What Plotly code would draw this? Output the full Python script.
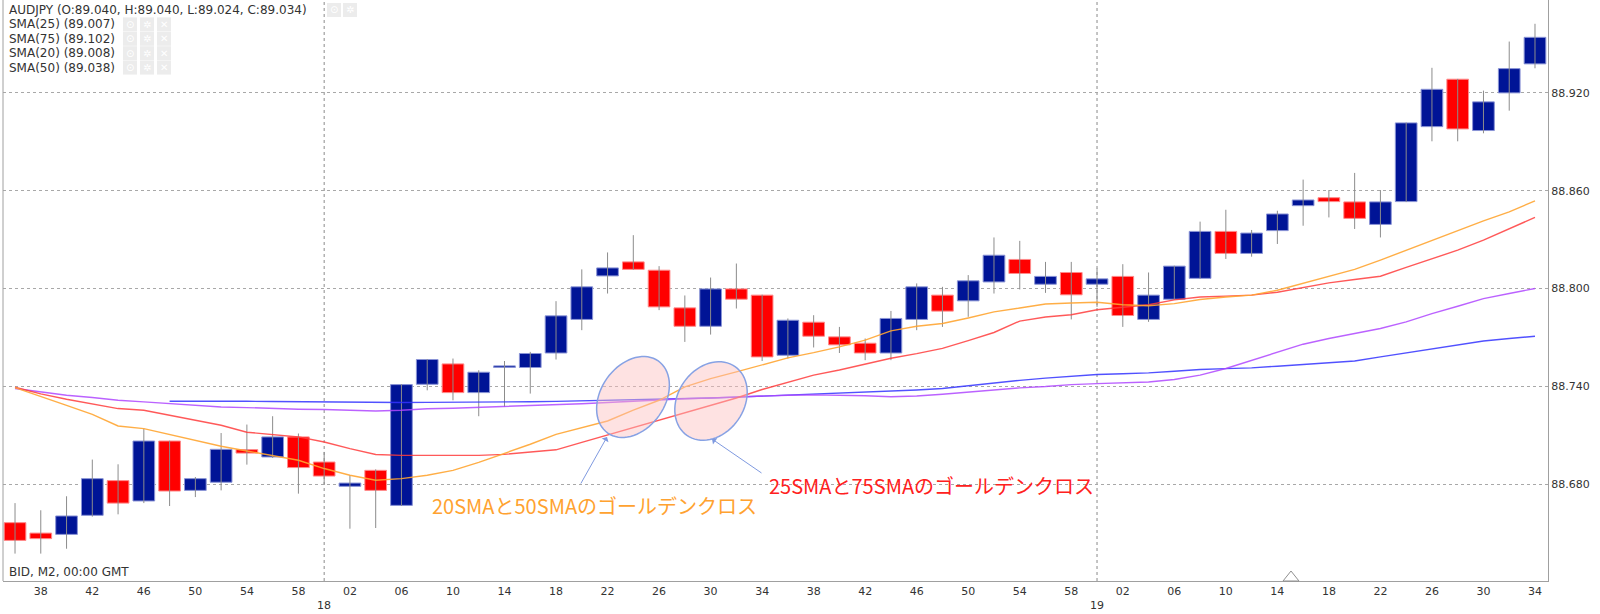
import math
import numpy as np
import pandas as pd
import plotly.graph_objects as go

# ---------------- data ----------------
times = pd.date_range("2019-05-17 17:36", periods=60, freq="2min")

open_ = [88.6563, 88.6499, 88.6491, 88.6608, 88.6821, 88.6696, 88.7064, 88.6761, 88.6811, 88.7011,
         88.6966, 88.7089, 88.6935, 88.6786, 88.6884, 88.6669, 88.7412, 88.7537, 88.7361, 88.7515,
         88.7515, 88.7604, 88.7810, 88.8077, 88.8163, 88.8112, 88.7881, 88.7768, 88.7997, 88.7959,
         88.7590, 88.7793, 88.7703, 88.7664, 88.7604, 88.7810, 88.7959, 88.7924, 88.8040, 88.8178,
         88.8026, 88.8098, 88.8026, 88.8074, 88.7810, 88.7934, 88.8062, 88.8350, 88.8215, 88.8355,
         88.8508, 88.8557, 88.8531, 88.8393, 88.8533, 88.8993, 88.9284, 88.8969, 88.9200, 88.9378]
high = [88.6683, 88.6639, 88.6725, 88.6950, 88.6921, 88.7140, 88.7066, 88.6843, 88.7113, 88.7165,
        88.7216, 88.7110, 88.6997, 88.6854, 88.6890, 88.7412, 88.7566, 88.7570, 88.7498, 88.7555,
        88.7611, 88.7922, 88.8117, 88.8221, 88.8327, 88.8137, 88.7957, 88.8067, 88.8153, 88.7962,
        88.7816, 88.7836, 88.7764, 88.7693, 88.7862, 88.8031, 88.8010, 88.8082, 88.8313, 88.8292,
        88.8163, 88.8163, 88.8123, 88.8149, 88.8098, 88.8140, 88.8410, 88.8483, 88.8359, 88.8477,
        88.8668, 88.8604, 88.8709, 88.8604, 88.9018, 88.9354, 88.9286, 88.9214, 88.9515, 88.9624]
low = [88.6373, 88.6373, 88.6403, 88.6600, 88.6614, 88.6683, 88.6665, 88.6720, 88.6761, 88.6919,
       88.6960, 88.6741, 88.6798, 88.6526, 88.6530, 88.6665, 88.7375, 88.7314, 88.7216, 88.7273,
       88.7355, 88.7564, 88.7744, 88.7969, 88.8115, 88.7867, 88.7672, 88.7717, 88.7877, 88.7555,
       88.7570, 88.7638, 88.7604, 88.7560, 88.7560, 88.7744, 88.7764, 88.7826, 88.7969, 88.7994,
       88.7973, 88.7810, 88.7887, 88.7764, 88.7795, 88.7930, 88.8060, 88.8181, 88.8195, 88.8273,
       88.8385, 88.8436, 88.8365, 88.8313, 88.8530, 88.8903, 88.8903, 88.8952, 88.9091, 88.9351]
close = [88.6454, 88.6465, 88.6604, 88.6833, 88.6683, 88.7064, 88.6757, 88.6833, 88.7013, 88.6990,
         88.7089, 88.6901, 88.6849, 88.6806, 88.6761, 88.7410, 88.7564, 88.7361, 88.7486, 88.7525,
         88.7601, 88.7832, 88.8010, 88.8126, 88.8117, 88.7887, 88.7768, 88.7997, 88.7934, 88.7580,
         88.7805, 88.7707, 88.7654, 88.7604, 88.7816, 88.8010, 88.7861, 88.8047, 88.8204, 88.8092,
         88.8074, 88.7961, 88.8059, 88.7834, 88.7959, 88.8137, 88.8350, 88.8215, 88.8340, 88.8457,
         88.8543, 88.8533, 88.8430, 88.8531, 88.9016, 88.9222, 88.8979, 88.9145, 88.9349, 88.9541]

sma20 = [88.7392, 88.7339, 88.7283, 88.7228, 88.7156, 88.7140, 88.7105, 88.7068, 88.7032, 88.7003,
         88.6976, 88.6946, 88.6895, 88.6854, 88.6823, 88.6833, 88.6854, 88.6884, 88.6933, 88.6989,
         88.7044, 88.7105, 88.7146, 88.7187, 88.7253, 88.7314, 88.7396, 88.7447, 88.7488, 88.7529,
         88.7574, 88.7606, 88.7642, 88.7683, 88.7740, 88.7768, 88.7785, 88.7819, 88.7856, 88.7880,
         88.7905, 88.7911, 88.7915, 88.7900, 88.7894, 88.7907, 88.7932, 88.7948, 88.7959, 88.7989,
         88.8031, 88.8071, 88.8117, 88.8174, 88.8235, 88.8296, 88.8358, 88.8415, 88.8470, 88.8538]
sma25 = [88.7394, 88.7353, 88.7320, 88.7291, 88.7263, 88.7253, 88.7222, 88.7191, 88.7161, 88.7118,
         88.7105, 88.7089, 88.7058, 88.7017, 88.6981, 88.6976, 88.6976, 88.6976, 88.6976, 88.6982,
         88.6995, 88.7010, 88.7056, 88.7101, 88.7144, 88.7191, 88.7234, 88.7279, 88.7328, 88.7380,
         88.7425, 88.7468, 88.7500, 88.7535, 88.7572, 88.7600, 88.7632, 88.7680, 88.7730, 88.7800,
         88.7825, 88.7839, 88.7869, 88.7885, 88.7900, 88.7930, 88.7948, 88.7953, 88.7959, 88.7977,
         88.8006, 88.8034, 88.8055, 88.8075, 88.8129, 88.8184, 88.8235, 88.8296, 88.8368, 88.8436]
sma50 = [88.7386, 88.7365, 88.7345, 88.7331, 88.7314, 88.7304, 88.7294, 88.7283, 88.7273, 88.7269,
         88.7263, 88.7259, 88.7257, 88.7253, 88.7248, 88.7253, 88.7262, 88.7265, 88.7270, 88.7276,
         88.7283, 88.7289, 88.7293, 88.7300, 88.7309, 88.7317, 88.7323, 88.7328, 88.7335, 88.7340,
         88.7345, 88.7347, 88.7346, 88.7342, 88.7336, 88.7340, 88.7351, 88.7365, 88.7378, 88.7390,
         88.7398, 88.7410, 88.7416, 88.7421, 88.7426, 88.7441, 88.7468, 88.7509, 88.7560, 88.7611,
         88.7658, 88.7693, 88.7724, 88.7754, 88.7795, 88.7846, 88.7891, 88.7938, 88.7969, 88.8000]
sma75 = [None, None, None, None, None, None, 88.7308, 88.7309, 88.7310, 88.7308,
         88.7306, 88.7304, 88.7302, 88.7300, 88.7300, 88.7300, 88.7301, 88.7301, 88.7301, 88.7303,
         88.7305, 88.7307, 88.7310, 88.7313, 88.7316, 88.7319, 88.7323, 88.7328, 88.7333, 88.7339,
         88.7345, 88.7350, 88.7355, 88.7362, 88.7369, 88.7377, 88.7386, 88.7403, 88.7421, 88.7436,
         88.7450, 88.7462, 88.7472, 88.7477, 88.7482, 88.7492, 88.7503, 88.7508, 88.7513, 88.7523,
         88.7533, 88.7544, 88.7555, 88.7580, 88.7605, 88.7631, 88.7656, 88.7678, 88.7693, 88.7707]

legend_lines = ["AUDJPY (O:89.040, H:89.040, L:89.024, C:89.034)",
                "SMA(25) (89.007)", "SMA(75) (89.102)", "SMA(20) (89.008)", "SMA(50) (89.038)"]
hour_labels = ["18", "19"]
hour_times = ["2019-05-17 18:00", "2019-05-17 19:00"]
note_20_50 = "20SMAと50SMAのゴールデンクロス"
note_25_75 = "25SMAと75SMAのゴールデンクロス"

# ---------------- styling / geometry ----------------
BULL = "#001496"
BEAR = "#ff0000"
W, H = 1600, 614
L_M, R_M, T_M, B_M = 3, 52, 0, 33
PX0, PX1, PY0, PY1 = L_M, W - R_M, T_M, H - B_M


def px(x):
    return (x - PX0) / (PX1 - PX0)


def py(y):
    return (PY1 - y) / (PY1 - PY0)


o = np.array(open_)
c = np.array(close)
lo = np.minimum(o, c)
hi = np.maximum(o, c)
bull = c >= o

fig = go.Figure()

# wicks
wx, wy = [], []
for t, h_, l_ in zip(times, high, low):
    wx += [t, t, None]
    wy += [l_, h_, None]
fig.add_trace(go.Scatter(x=wx, y=wy, mode="lines", line=dict(color="#8c8c8c", width=1),
                         hoverinfo="skip", showlegend=False))

body_w = 101000  # ms
fig.add_trace(go.Bar(x=times[bull], y=(hi - lo)[bull], base=lo[bull], width=body_w,
                     marker=dict(color=BULL, line=dict(color="#8a94d6", width=1)),
                     showlegend=False, hoverinfo="skip"))
fig.add_trace(go.Bar(x=times[~bull], y=(hi - lo)[~bull], base=lo[~bull], width=body_w,
                     marker=dict(color=BEAR, line=dict(color="#ff8a8a", width=1)),
                     showlegend=False, hoverinfo="skip"))

for vals, col in [(sma75, "rgba(50,50,255,0.85)"), (sma50, "rgba(175,70,255,0.85)"),
                  (sma25, "rgba(255,60,60,0.85)"), (sma20, "rgba(255,165,50,0.9)")]:
    fig.add_trace(go.Scatter(x=times, y=vals, mode="lines", line=dict(color=col, width=1.4),
                             hoverinfo="skip", showlegend=False))

shapes = []
# hour separators
for ht in hour_times:
    shapes.append(dict(type="line", xref="x", yref="paper", x0=ht, x1=ht, y0=0, y1=1,
                       line=dict(color="#8a8a8a", width=1, dash="dot"), layer="below"))
# left border
shapes.append(dict(type="line", xref="paper", yref="paper", x0=0, x1=0, y0=0, y1=1,
                   line=dict(color="#a0a0a0", width=1)))


def ellipse_path(cx, cy, a, b, deg, n=72):
    th = math.radians(deg)
    pts = []
    for k in range(n):
        t = 2 * math.pi * k / n
        ex, ey = a * math.cos(t), b * math.sin(t)
        x = cx + ex * math.cos(th) - ey * math.sin(th)
        y = cy - (ex * math.sin(th) + ey * math.cos(th))
        pts.append(f"{px(x):.5f},{py(y):.5f}")
    return "M " + " L ".join(pts) + " Z"


for cx, cy, a, b in [(633, 397, 44, 32), (711, 401, 42, 33)]:
    shapes.append(dict(type="path", xref="paper", yref="paper", path=ellipse_path(cx, cy, a, b, 55),
                       fillcolor="rgba(252,190,190,0.45)", line=dict(color="#87a2e4", width=1.5),
                       layer="above"))

# triangle marker on the time axis
tri = f"M {px(1283):.5f},{py(581):.5f} L {px(1299):.5f},{py(581):.5f} L {px(1291):.5f},{py(571):.5f} Z"
shapes.append(dict(type="path", xref="paper", yref="paper", path=tri, fillcolor="white",
                   line=dict(color="#909090", width=1)))

annotations = []
# legend block
for i, txt in enumerate(legend_lines):
    yc = 10 + 14.4 * i
    annotations.append(dict(xref="paper", yref="paper", x=px(7), y=py(yc), text=txt,
                            showarrow=False, xanchor="left", yanchor="middle",
                            font=dict(family="DejaVu Sans", size=12, color="#333333")))
    icon_x = [327, 343] if i == 0 else [123, 140, 157]
    glyphs = ["⊙", "✲", "✕"]
    for j, ix in enumerate(icon_x):
        shapes.append(dict(type="rect", xref="paper", yref="paper", x0=px(ix), x1=px(ix + 14),
                           y0=py(yc + 7), y1=py(yc - 7), fillcolor="#ececec", line=dict(width=0)))
        annotations.append(dict(xref="paper", yref="paper", x=px(ix + 7), y=py(yc), text=glyphs[j],
                                showarrow=False, xanchor="center", yanchor="middle",
                                font=dict(family="DejaVu Sans", size=10, color="white")))

annotations.append(dict(xref="paper", yref="paper", x=px(7), y=py(572), text="BID, M2, 00:00 GMT",
                        showarrow=False, xanchor="left", yanchor="middle",
                        font=dict(family="DejaVu Sans", size=12, color="#333333")))
for lab, ht in zip(hour_labels, hour_times):
    annotations.append(dict(xref="x", yref="paper", x=ht, y=py(606), text=lab, showarrow=False,
                            xanchor="center", yanchor="middle",
                            font=dict(family="DejaVu Sans", size=11, color="#333333")))

# arrows
for tip, tail in [((607, 437), (580, 485)), ((712, 439), (763, 474))]:
    annotations.append(dict(xref="paper", yref="paper", x=px(tip[0]), y=py(tip[1]), text="",
                            showarrow=True, ax=tail[0] - tip[0], ay=tail[1] - tip[1],
                            arrowhead=1, arrowsize=1.3, arrowwidth=1, arrowcolor="#7f9ae0"))
annotations.append(dict(xref="paper", yref="paper", x=px(430), y=py(505), text=note_20_50,
                        showarrow=False, xanchor="left", yanchor="middle",
                        font=dict(family="Noto Sans CJK JP", size=20, color="#ffa230")))
annotations.append(dict(xref="paper", yref="paper", x=px(767), y=py(486), text=note_25_75,
                        showarrow=False, xanchor="left", yanchor="middle",
                        font=dict(family="Noto Sans CJK JP", size=20, color="#ff2020")))

fig.update_layout(
    width=W, height=H, autosize=False,
    margin=dict(l=L_M, r=R_M, t=T_M, b=B_M),
    paper_bgcolor="white", plot_bgcolor="white",
    barmode="overlay", showlegend=False,
    shapes=shapes, annotations=annotations,
    xaxis=dict(type="date", range=["2019-05-17 17:35:04", "2019-05-17 19:35:00.6"],
               tickformat="%M", dtick=240000, tick0="2019-05-17 17:38",
               showgrid=False, showline=True, linecolor="#a0a0a0", ticks="",
               tickfont=dict(family="DejaVu Sans", size=11, color="#333333"),
               fixedrange=True),
    yaxis=dict(side="right", range=[88.6205, 88.977], dtick=0.06, tick0=88.68,
               tickformat=".3f", showgrid=True, gridcolor="#a8a8a8", griddash="dot",
               gridwidth=1, showline=True, linecolor="#a0a0a0", zeroline=False, ticks="",
               tickfont=dict(family="DejaVu Sans", size=11, color="#333333")),
)

fig.write_html("out.html", config={"displayModeBar": False},
               post_script="document.body.style.margin='0';document.body.style.overflow='hidden';")
